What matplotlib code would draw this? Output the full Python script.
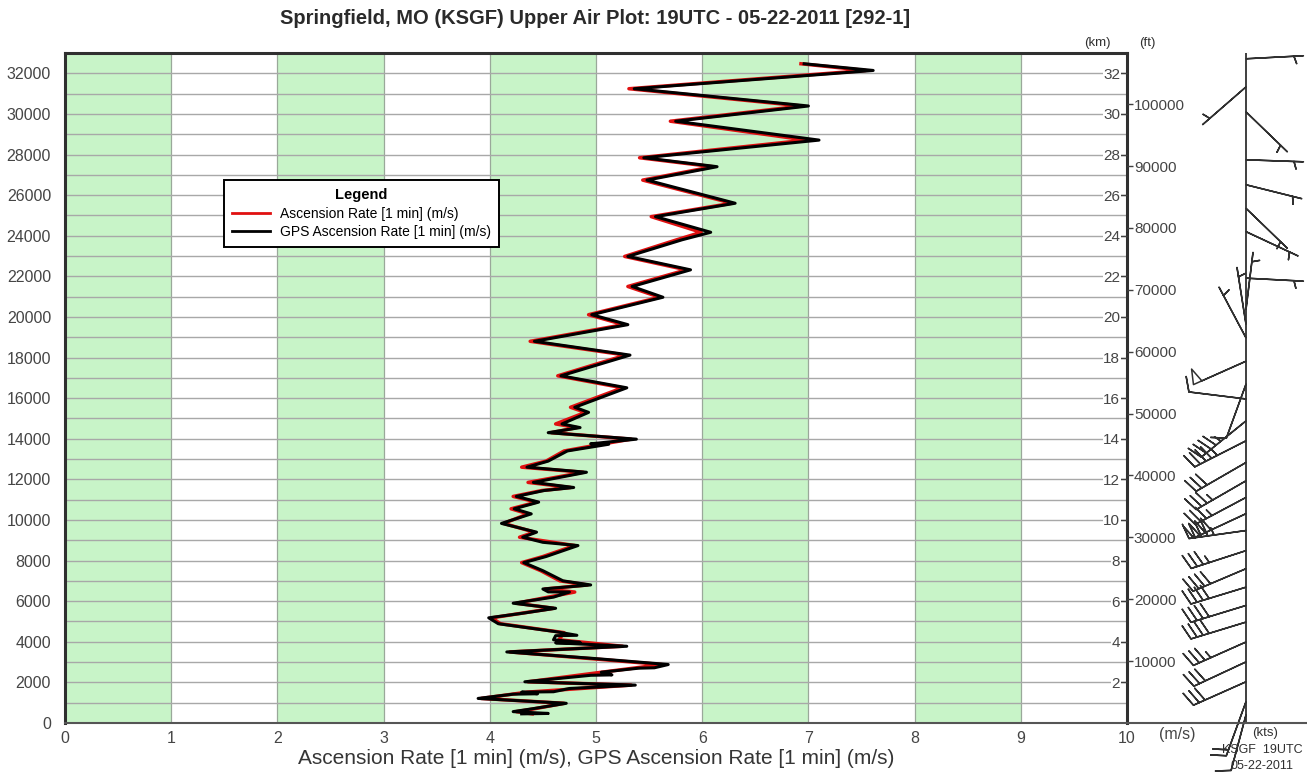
import numpy as np
import matplotlib.pyplot as plt
from matplotlib.lines import Line2D

plt.rcParams['font.family'] = ['Liberation Sans', 'DejaVu Sans']

# ascension rate profile (altitude in m, rate in m/s)
alt_ptu = [450, 560, 700, 970, 1210, 1520, 1866, 2030, 2500, 2880, 3500, 3780,
           4100, 4450, 4890, 5180, 5650, 5900, 6450, 6600, 6800, 7000, 7500,
           7900, 8200, 8740, 9150, 9400, 9830, 10300, 10550, 10880, 11160,
           11450, 11600, 11850, 12350, 12600, 12900, 13400, 13730, 13980,
           14300, 14550, 14730, 15300, 15550, 16510, 17100, 18120, 18800,
           19620, 20110, 20970, 21500, 22320, 22980, 23800, 24170, 24940,
           25600, 26740, 27400, 27840, 28710, 29640, 30390, 31240, 32140, 32470]
rate_ptu = [4.40, 4.25, 4.42, 4.70, 3.92, 4.35, 5.33, 4.36, 5.05, 5.62, 4.19, 5.25,
            4.65, 4.70, 4.10, 4.02, 4.60, 4.25, 4.80, 4.52, 4.92, 4.66, 4.48,
            4.30, 4.50, 4.80, 4.28, 4.42, 4.13, 4.36, 4.20, 4.44, 4.22,
            4.49, 4.76, 4.36, 4.88, 4.30, 4.53, 4.70, 5.05, 5.33,
            4.58, 4.82, 4.62, 4.90, 4.76, 5.25, 4.64, 5.28, 4.38,
            5.26, 4.93, 5.60, 5.30, 5.85, 5.27, 5.76, 5.99, 5.52,
            6.28, 5.44, 6.10, 5.41, 6.98, 5.70, 6.94, 5.31, 7.54, 6.93]

alt_gps = [450, 470, 560, 700, 970, 1210, 1420, 1440, 1520, 1540, 1700, 1866,
           2030, 2350, 2370, 2500, 2700, 2720, 2880, 3150, 3500, 3780, 3950,
           3970, 4100, 4300, 4320, 4500, 4890, 5180, 5400, 5650, 5900, 6200,
           6450, 6460, 6600, 6800, 7000, 7500, 7900, 8200, 8740, 8900, 9150,
           9400, 9830, 10300, 10550, 10880, 11160, 11450, 11600, 11850, 12350,
           12600, 12900, 13400, 13730, 13750, 13980, 14300, 14550, 14730, 15300,
           15550, 16510, 17100, 18120, 18800, 19620, 20110, 20970, 21500, 22320,
           22980, 23800, 24170, 24940, 25600, 26740, 27400, 27840, 28710, 29640,
           30390, 31240, 32140, 32470]
rate_gps = [4.30, 4.55, 4.22, 4.40, 4.72, 3.89, 4.22, 4.45, 4.30, 4.60, 4.75, 5.37,
            4.33, 4.95, 5.15, 5.05, 5.40, 5.55, 5.68, 5.05, 4.16, 5.29, 4.62,
            4.85, 4.60, 4.62, 4.82, 4.62, 4.08, 3.99, 4.30, 4.62, 4.22, 4.60,
            4.75, 4.55, 4.50, 4.95, 4.69, 4.50, 4.32, 4.53, 4.83, 4.50, 4.31,
            4.44, 4.11, 4.39, 4.23, 4.46, 4.25, 4.51, 4.79, 4.41, 4.91,
            4.35, 4.55, 4.73, 5.12, 4.95, 5.38, 4.55, 4.85, 4.68, 4.93,
            4.80, 5.29, 4.67, 5.32, 4.42, 5.30, 4.96, 5.63, 5.34, 5.89,
            5.30, 5.81, 6.08, 5.56, 6.31, 5.48, 6.14, 5.45, 7.10, 5.75,
            7.00, 5.36, 7.61, 6.96]

# winds aloft: altitude (m), direction (deg), speed (kts)
wind_alt = [400, 1050, 2030, 3010, 3990, 4970, 5790, 6690, 7600, 8490, 9480,
            10310, 11110, 11930, 12830, 13900, 14880, 15960, 16690, 17820,
            18970, 19640, 20370, 21910, 24200, 25350, 26510, 27740, 30100,
            31330, 32716]
wind_dir = [195, 200, 246, 245, 246, 253, 253, 253, 247, 252, 262,
            245, 242, 240, 240, 243, 231, 277, 200, 246,
            332, 351, 7, 93, 115, 134, 104, 92, 134,
            229, 87]
wind_spd = [10, 20, 30, 30, 35, 40, 40, 40, 40, 35, 45,
            40, 35, 35, 30, 45, 45, 10, 10, 50,
            5, 5, 5, 5, 5, 5, 5, 5, 5,
            5, 5]

km_ticks = list(range(2, 33, 2))
ft_ticks = list(range(10000, 100001, 10000))

W, H = 1307, 780
fig = plt.figure(figsize=(W / 100, H / 100), dpi=100)
fig.patch.set_facecolor('white')

ax = fig.add_axes([65 / W, 57 / H, 1062 / W, 670 / H])
ax.set_xlim(0, 10)
ax.set_ylim(0, 33000)

for x0 in range(0, 10, 2):
    ax.axvspan(x0, x0 + 1, color='#c8f4c8', zorder=0, lw=0)

ax.set_xticks(range(0, 11))
ax.set_yticks(range(0, 33000, 2000))
ax.set_yticks(range(0, 33001, 1000), minor=True)
ax.grid(axis='x', color='#9aa89a', lw=0.9, zorder=1)
ax.grid(axis='y', which='both', color='#a8a8a8', lw=1.0, zorder=1)
ax.set_axisbelow(True)
ax.tick_params(axis='both', which='both', length=0, labelsize=11.5, labelcolor='#454545')
ax.tick_params(axis='y', pad=10)
ax.tick_params(axis='x', pad=6)

for side in ['left', 'top', 'right']:
    ax.spines[side].set_linewidth(2.2)
    ax.spines[side].set_color('#303030')
ax.spines['bottom'].set_linewidth(1.5)
ax.spines['bottom'].set_color('#555555')

ax.plot(rate_ptu, alt_ptu, color='#e01010', lw=2.5, zorder=3)
ax.plot(rate_gps, alt_gps, color='black', lw=2.2, zorder=4)

ax.set_xlabel('Ascension Rate [1 min] (m/s), GPS Ascension Rate [1 min] (m/s)',
              fontsize=15, color='#353535', labelpad=2)

handles = [Line2D([], [], color='#e01010', lw=2),
           Line2D([], [], color='black', lw=2)]
leg = ax.legend(handles, ['Ascension Rate [1 min] (m/s)',
                          'GPS Ascension Rate [1 min] (m/s)'],
                title='Legend', loc='upper left', bbox_to_anchor=(0.1497, 0.8104),
                borderaxespad=0, fancybox=False, framealpha=1, edgecolor='black',
                fontsize=10, title_fontproperties={'weight': 'bold', 'size': 10.5},
                handlelength=2.7, handletextpad=0.7, borderpad=0.6, labelspacing=0.3)
leg.get_frame().set_linewidth(1.4)
leg.set_zorder(10)

# km scale inside the right edge
kax = ax.twinx()
kax.set_ylim(0, 33)
kax.set_yticks(km_ticks)
kax.tick_params(axis='y', direction='in', length=5, width=1, pad=-5,
                labelsize=11, labelcolor='#454545', color='#404040')
for lab in kax.get_yticklabels():
    lab.set_horizontalalignment('right')
    lab.set_bbox(dict(facecolor='white', edgecolor='none', pad=0.3))
for s in kax.spines.values():
    s.set_visible(False)

# feet scale outside the right edge
fax = ax.twinx()
fax.set_ylim(0, 33000 / 0.3048)
fax.set_yticks(ft_ticks)
fax.tick_params(axis='y', direction='out', length=4, width=1, pad=1,
                labelsize=11, labelcolor='#454545', color='#404040')
for s in fax.spines.values():
    s.set_visible(False)

fig.text(1097 / W, 1 - 43 / H, '(km)', ha='center', va='center', fontsize=9.5, color='#303030')
fig.text(1147 / W, 1 - 43 / H, '(ft)', ha='center', va='center', fontsize=9.5, color='#303030')

fig.text(595 / W, 1 - 18 / H,
         'Springfield, MO (KSGF) Upper Air Plot: 19UTC - 05-22-2011 [292-1]',
         ha='center', va='center', fontsize=14.5, fontweight='bold', color='#2a2a2a')

fig.text(1177 / W, 1 - 735 / H, '(m/s)', ha='center', va='center', fontsize=11.5, color='#454545')
fig.text(1252 / W, 1 - 733 / H, '(kts)', ha='left', va='center', fontsize=9.5, color='#303030')
fig.text(1262 / W, 1 - 750 / H, 'KSGF  19UTC', ha='center', va='center', fontsize=9, color='#303030')
fig.text(1262 / W, 1 - 766 / H, '05-22-2011', ha='center', va='center', fontsize=9, color='#303030')

# wind barb column
wax = fig.add_axes([1127 / W, 57 / H, 180 / W, 670 / H])
wax.set_xlim(-119, 61)
wax.set_ylim(0, 33000)
wax.axis('off')
wax.axvline(0, color='#303030', lw=1.3)
wax.axhline(0, color='#555555', lw=1.5, clip_on=False)

d = np.radians(wind_dir)
spd = np.array(wind_spd, dtype=float)
u = -spd * np.sin(d)
v = -spd * np.cos(d)
wax.barbs(np.zeros(len(wind_alt)), wind_alt, u, v, length=9.1, pivot='tip',
          sizes=dict(spacing=0.11, height=0.26, width=0.16),
          barbcolor='#303030', flagcolor='white', linewidth=1.1, clip_on=False)

fig.savefig('out.png', dpi=100)
